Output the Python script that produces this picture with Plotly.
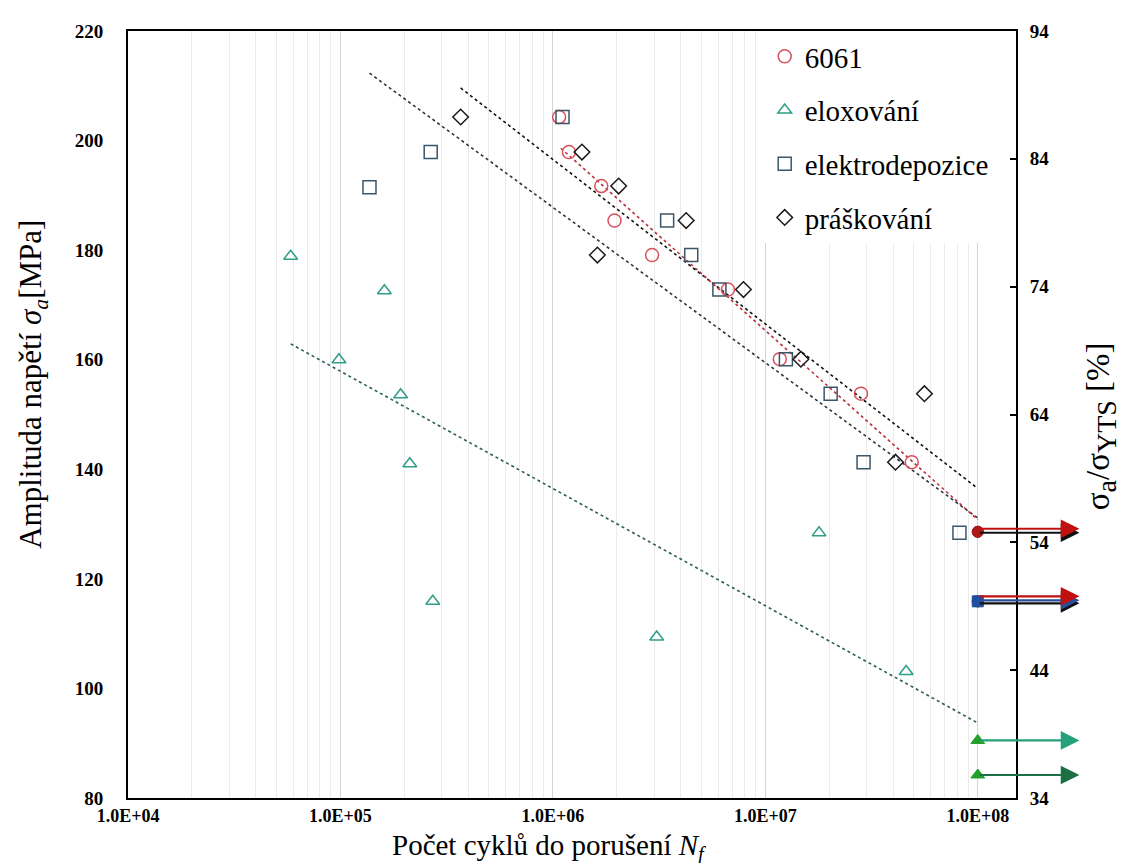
import plotly.graph_objects as go
import numpy as np

# ---------------- data ----------------
n_6061 = [1.07e6, 1.19e6, 1.69e6, 1.95e6, 2.93e6, 6.67e6, 1.17e7, 2.82e7, 4.89e7]
s_6061 = [204.3, 197.9, 191.7, 185.4, 179.1, 172.8, 160.1, 153.8, 141.3]

n_elox = [5.83e4, 9.84e4, 1.61e5, 1.92e5, 2.12e5, 2.72e5, 3.08e6, 1.79e7, 4.60e7]
s_elox = [178.9, 160.0, 172.6, 153.6, 141.0, 115.9, 109.4, 128.4, 103.1]

n_elek = [1.37e5, 2.66e5, 1.11e6, 3.45e6, 4.48e6, 6.08e6, 1.25e7, 2.03e7, 2.90e7, 8.20e7]
s_elek = [191.5, 197.9, 204.3, 185.4, 179.1, 172.8, 160.1, 153.8, 141.3, 128.4]

n_prask = [3.68e5, 1.37e6, 2.04e6, 4.24e6, 1.62e6, 7.89e6, 1.47e7, 5.61e7, 4.10e7]
s_prask = [204.3, 197.9, 191.7, 185.4, 179.1, 172.8, 160.1, 153.8, 141.3]

# run-outs (no failure) at 1e8 cycles
runout_n = 1.0e8
run_6061 = [128.6, 115.9]
run_prask = [128.6, 115.9]
run_elek = [115.9]
run_elox = [90.5, 84.2]

# trend lines (end points)
tr_6061_n, tr_6061_s = [1.09e6, 1.0e8], [198.6, 130.8]
tr_prask_n, tr_prask_s = [3.68e5, 1.0e8], [209.6, 136.5]
tr_elek_n, tr_elek_s = [1.37e5, 1.0e8], [212.3, 131.1]
tr_elox_n, tr_elox_s = [5.83e4, 1.0e8], [162.9, 93.7]

x_ticks = [1e4, 1e5, 1e6, 1e7, 1e8]
x_ticktext = ["1.0E+04", "1.0E+05", "1.0E+06", "1.0E+07", "1.0E+08"]
y_ticks = [80, 100, 120, 140, 160, 180, 200, 220]
y2_ticks = [34, 44, 54, 64, 74, 84, 94]

# ---------------- style ----------------
C_RED = "#d9505c"
C_TEAL = "#2f9e86"
C_BLUE = "#3b5668"
C_BLACK = "#1a1a1a"
SERIF = "Liberation Serif, Times New Roman, serif"

fig = go.Figure()

# trend lines
for n, s, col in [(tr_elox_n, tr_elox_s, "#2c5d57"),
                  (tr_elek_n, tr_elek_s, "#2b3540"),
                  (tr_prask_n, tr_prask_s, "#111111"),
                  (tr_6061_n, tr_6061_s, "#b8303a")]:
    fig.add_trace(go.Scatter(x=n, y=s, mode="lines", showlegend=False, hoverinfo="skip",
                             line=dict(color=col, width=1.6, dash="dot")))

def series(n, s, name, symbol, color, size):
    fig.add_trace(go.Scatter(
        x=n, y=s, mode="markers", name=name, legendgroup=name,
        marker=dict(symbol=symbol, size=size, color=color,
                    line=dict(width=1.5, color=color))))

series(n_6061, s_6061, "6061", "circle-open", C_RED, 13)
series(n_elox, s_elox, "eloxování", "triangle-up-open", C_TEAL, 12)
series(n_elek, s_elek, "elektrodepozice", "square-open", C_BLUE, 13)
series(n_prask, s_prask, "práškování", "diamond-open", C_BLACK, 12)

# run-out markers
def runout(vals, symbol, color, size):
    fig.add_trace(go.Scatter(x=[runout_n] * len(vals), y=vals, mode="markers",
                             showlegend=False, cliponaxis=False, hoverinfo="skip",
                             marker=dict(symbol=symbol, size=size, color=color,
                                         line=dict(width=1, color=color))))

runout(run_prask, "circle", "#111111", 11)
runout(run_6061, "circle", "#b01818", 11)
runout(run_elek, "square", "#1f4fa0", 11)
runout(run_elox, "triangle-up", "#22a02a", 12)

# y2 axis carrier
fig.add_trace(go.Scatter(x=[None], y=[None], yaxis="y2", showlegend=False, hoverinfo="skip"))

# run-out arrows
X0, X1 = 4.0, 8.18
def frac(n):
    return (np.log10(n) - X0) / (X1 - X0)

arrows = [
    (run_prask[0], "#111111", -1),
    (run_6061[0], "#c01010", 3),
    (run_prask[1], "#111111", -2),
    (run_elek[0], "#2a4f9a", 1),
    (run_6061[1], "#c01010", 5),
    (run_elox[0], "#24a07a", 0),
    (run_elox[1], "#1c6e45", 0),
]
annotations = []
for val, col, shift in arrows:
    annotations.append(dict(
        x=frac(runout_n) + 0.1145, y=val, xref="paper", yref="y",
        ax=-101, ay=0, axref="pixel", ayref="pixel", text="", showarrow=True,
        arrowhead=2, arrowsize=1.7, arrowwidth=2.2, arrowcolor=col,
        yshift=shift, standoff=0, startstandoff=0))

# axis titles
annotations += [
    dict(text="Amplituda napětí <i>σ<sub>a</sub></i>[MPa]", xref="paper", yref="paper",
         x=-0.107, y=0.54, xanchor="center", yanchor="middle", textangle=-90, showarrow=False,
         font=dict(family=SERIF, size=31, color="black")),
    dict(text="Počet cyklů do porušení <i>N<sub>f</sub></i>", xref="paper", yref="paper",
         x=0.474, y=-0.064, xanchor="center", yanchor="middle", showarrow=False,
         font=dict(family=SERIF, size=29, color="black")),
    dict(text="σ<sub><span style='font-size:28px'>a</span></sub>/σ"
              "<sub><span style='font-size:28px'>YTS</span></sub> [%]",
         xref="paper", yref="paper",
         x=1.096, y=0.485, xanchor="center", yanchor="middle", textangle=-90, showarrow=False,
         font=dict(family=SERIF, size=33, color="black")),
]

minor_vals = [k * 10 ** d for d in range(4, 9) for k in range(2, 10) if k * 10 ** d < 10 ** X1]

fig.update_layout(
    width=1125, height=863,
    margin=dict(l=120, r=117, t=23, b=73),
    plot_bgcolor="white", paper_bgcolor="white",
    font=dict(family=SERIF, color="black"),
    showlegend=True,
    legend=dict(x=0.717, y=1.0, xanchor="left", yanchor="top", bgcolor="white",
                font=dict(family=SERIF, size=29, color="black"),
                tracegroupgap=13, itemsizing="trace", itemwidth=30),
    annotations=annotations,
    xaxis=dict(type="log", range=[X0, X1], tickvals=x_ticks, ticktext=x_ticktext,
               showgrid=True, gridcolor="#d4d4d4", gridwidth=1,
               minor=dict(tickvals=minor_vals, showgrid=True, gridcolor="#ebebeb", gridwidth=1),
               showline=True, linecolor="black", linewidth=2, mirror=True,
               ticks="", zeroline=False, ticklabelstandoff=0,
               tickfont=dict(family=SERIF, size=18, color="black", weight="bold")),
    yaxis=dict(range=[80, 220], tickvals=y_ticks, showgrid=False, zeroline=False,
               showline=True, linecolor="black", linewidth=2, mirror=True, ticks="",
               ticklabelstandoff=19,
               tickfont=dict(family=SERIF, size=19, color="black", weight="bold")),
    yaxis2=dict(range=[34, 94], tickvals=y2_ticks, overlaying="y", side="right",
                showgrid=False, zeroline=False, showline=True, linecolor="black", linewidth=2,
                ticks="inside", ticklen=6, tickcolor="black", tickwidth=1.5,
                ticklabelstandoff=8,
                tickfont=dict(family=SERIF, size=19, color="black", weight="bold")),
)

fig.write_html("out.html")
